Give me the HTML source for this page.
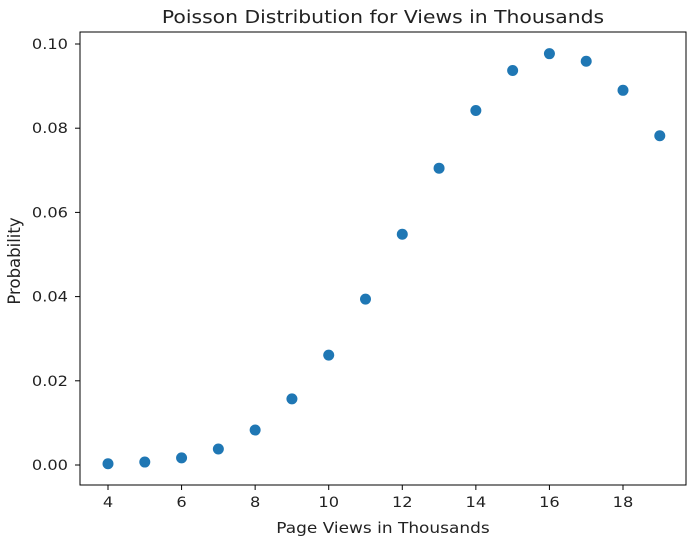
<!DOCTYPE html>
<html><head><meta charset="utf-8"><style>
body{margin:0;background:#fff;}
svg text{font-family:"DejaVu Sans","Liberation Sans",sans-serif;fill:#222;}
</style></head><body>
<svg id="chart" width="691" height="543">
<text transform="translate(383,23) scale(1.13,1)" font-size="18" text-anchor="middle">Poisson Distribution for Views in Thousands</text>
<rect x="80" y="32" width="606" height="453" fill="none" stroke="#000" stroke-width="1"/>
<g id="xt"></g><g id="yt"></g><g id="pts"></g>
<text transform="translate(383,533) scale(1.13,1)" font-size="15" text-anchor="middle">Page Views in Thousands</text>
<text transform="translate(20,261) rotate(-90)" font-size="16.5" text-anchor="middle">Probability</text>
</svg>
<script>
const categories=[4,5,6,7,8,9,10,11,12,13,14,15,16,17,18,19];
const probabilities=[0.0003,0.0007,0.0017,0.0038,0.0083,0.0157,0.0261,0.0394,0.0548,0.0705,0.0842,0.0937,0.0977,0.0959,0.0890,0.0782];
const xTicks=[4,6,8,10,12,14,16,18];
const yTicks=[0,0.02,0.04,0.06,0.08,0.10];
const NS="http://www.w3.org/2000/svg";
function xs(v){return 108+(v-4)*(623-108)/14;}
function ys(v){return 465-v*(465-44)/0.1;}
function mk(t,a,p){const e=document.createElementNS(NS,t);for(const k in a)e.setAttribute(k,a[k]);p.appendChild(e);return e;}
const xt=document.getElementById('xt'),yt=document.getElementById('yt'),pts=document.getElementById('pts');
xTicks.forEach(v=>{
const l=mk('line',{x1:xs(v),x2:xs(v),y1:485,y2:490,stroke:'#000'},xt);


const t=mk('text',{transform:'translate('+xs(v)+',507) scale(1.12,1)','font-size':14.5,'text-anchor':'middle'},xt);t.textContent=v;


});
yTicks.forEach(v=>{
const l=mk('line',{x1:75,x2:80,y1:ys(v),y2:ys(v),stroke:'#000'},yt);


const t=mk('text',{transform:'translate(68,'+(ys(v)+5)+') scale(1.12,1)','font-size':14.5,'text-anchor':'end'},yt);t.textContent=v.toFixed(2);


});
categories.forEach((c,i)=>{
const p=mk('circle',{cx:xs(c),cy:ys(probabilities[i]),r:5.5,fill:'#1f77b4'},pts);


});
</script>
</body></html>
